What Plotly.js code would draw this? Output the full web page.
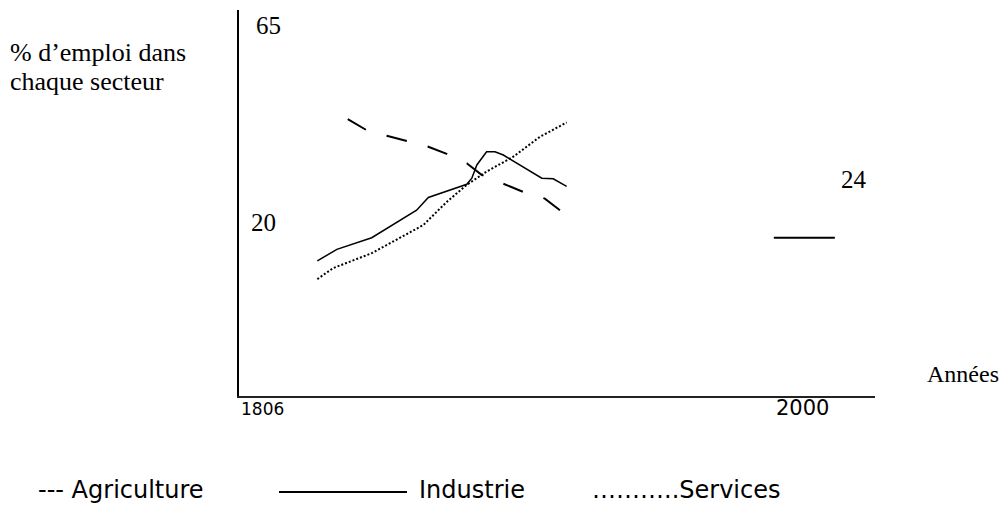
<!DOCTYPE html>
<html>
<head>
<meta charset="utf-8">
<script src="https://cdn.plot.ly/plotly-3.0.1.min.js"></script>
<style>
  html, body { margin: 0; padding: 0; background: #ffffff; }
  #chart { width: 1005px; height: 505px; }
</style>
</head>
<body>
<div id="chart"></div>
<script>
// ---- Data (years, % of employment) ----
const agriYears   = [1839.6, 1846.4, 1853.6, 1860.8, 1868.5, 1875.1, 1882.3, 1887.6, 1896.0, 1902.6, 1910.3, 1915.7];
const agriValues  = [50.2, 48.2, 47.2, 46.2, 45.2, 43.9, 42.2, 40.1, 38.4, 37.0, 35.8, 33.7];

const indYears    = [1828.7, 1835.7, 1848.2, 1864.3, 1868.5, 1882.3, 1884.1, 1885.9, 1889.4, 1892.4, 1895.4, 1909.2, 1913.3, 1918.1];
const indValues   = [24.5, 26.6, 28.7, 33.7, 36.0, 38.4, 39.5, 41.9, 44.3, 44.3, 43.7, 39.5, 39.4, 38.0];

const indLateYears  = [1992.4, 2014.3];
const indLateValues = [28.7, 28.7];

const servYears   = [1828.7, 1834.4, 1848.2, 1866.7, 1875.1, 1882.3, 1889.4, 1899.0, 1908.5, 1918.1];
const servValues  = [21.2, 23.2, 25.9, 31.0, 35.2, 38.3, 40.7, 43.4, 47.0, 49.6];

// Labels drawn on the chart
const yAxisTitleLines = ["% d’emploi dans", "chaque secteur"];
const valueLabels = ["65", "20", "24"];
const yearLabels = ["1806", "2000"];
const xAxisTitle = "Années";
const legendLabels = ["--- Agriculture", "Industrie", "………..Services"];

// ---- Layout geometry (pixels) ----
const W = 1005, H = 505;
const L = 239, R = 875, T = 10, B = 396;
const px = x => (x - L) / (R - L);
const py = y => (B - y) / (B - T);

const traces = [
  { x: agriYears, y: agriValues, mode: 'lines', line: { color: '#000', width: 2, dash: '21px,21.5px' }, hoverinfo: 'skip' },
  { x: indYears, y: indValues, mode: 'lines', line: { color: '#000', width: 1.5 }, hoverinfo: 'skip' },
  { x: indLateYears, y: indLateValues, mode: 'lines', line: { color: '#000', width: 2 }, hoverinfo: 'skip' },
  { x: servYears, y: servValues, mode: 'lines', line: { color: '#000', width: 2, dash: '2px,2px' }, hoverinfo: 'skip' }
];

const serif = 'Liberation Serif, Times New Roman, serif';
const sans = 'DejaVu Sans, Verdana, sans-serif';

function ann(text, x, y, size, family, xanchor) {
  return { text: text, xref: 'paper', yref: 'paper', x: px(x), y: py(y), xanchor: xanchor || 'center', yanchor: 'middle',
           showarrow: false, font: { family: family, size: size, color: '#000' } };
}

const annotations = [
  ann(yAxisTitleLines[0], 8, 52, 26, serif, 'left'),
  ann(yAxisTitleLines[1], 8, 81, 26, serif, 'left'),
  ann(valueLabels[0], 268, 25, 25, serif),
  ann(valueLabels[1], 263, 223, 25, serif),
  ann(valueLabels[2], 854, 179, 25, serif),
  ann(yearLabels[0], 262, 409, 17, sans),
  ann(yearLabels[1], 802, 408, 21, sans),
  ann(xAxisTitle, 963, 374, 24, serif),
  ann(legendLabels[0], 36, 490, 24, sans, 'left'),
  ann(legendLabels[1], 417, 490, 24, sans, 'left'),
  ann(legendLabels[2], 590, 490, 24, sans, 'left')
];

const layout = {
  width: W, height: H,
  margin: { l: L, r: W - R, t: T, b: H - B, pad: 0 },
  paper_bgcolor: '#ffffff', plot_bgcolor: '#ffffff',
  showlegend: false,
  xaxis: {
    range: [1800.6, 2028.7], showgrid: false, zeroline: false, showticklabels: false, ticks: '',
    showline: true, linecolor: '#222', linewidth: 1.5, fixedrange: true
  },
  yaxis: {
    range: [0, 70], showgrid: false, zeroline: false, showticklabels: false, ticks: '',
    showline: true, linecolor: '#000', linewidth: 2, fixedrange: true
  },
  annotations: annotations,
  shapes: [
    { type: 'line', xref: 'paper', yref: 'paper', x0: px(279), x1: px(407), y0: py(492), y1: py(492),
      line: { color: '#000', width: 2 } }
  ]
};

Plotly.newPlot('chart', traces, layout, { staticPlot: true, displayModeBar: false });
</script>
</body>
</html>
